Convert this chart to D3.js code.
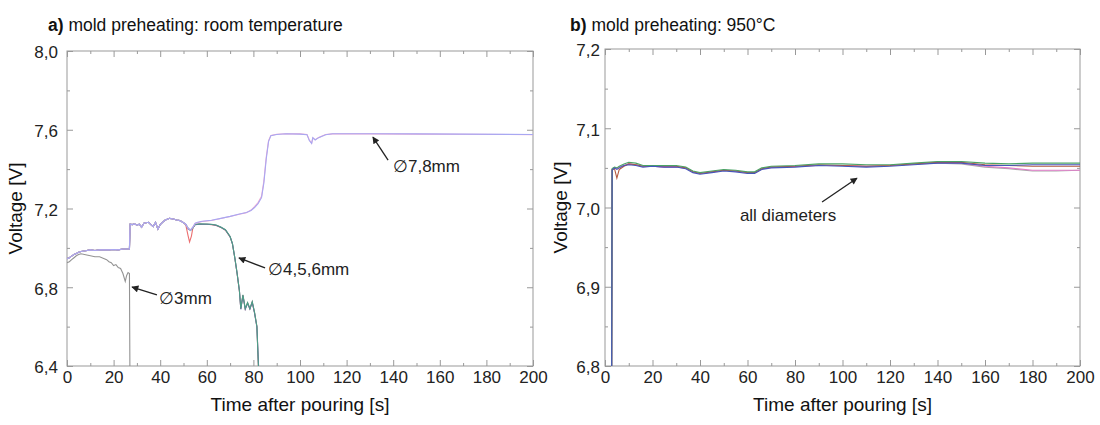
<!DOCTYPE html>
<html>
<head>
<meta charset="utf-8">
<script src="https://cdn.jsdelivr.net/npm/d3@7"></script>
<style>
    body { margin: 0; background: #fff; }
    svg { font-family: "Liberation Sans", Arial, sans-serif; }
    .tick text { fill: #222; }
</style>
</head>
<body>
<div id="chart"></div>
<script>
    // ---- data ----
    // a) room temperature, [time s, voltage V]
    var sharedStart = [[0,6.945],[1,6.95],[2,6.958],[3,6.966],[4,6.972],[5,6.978],[6,6.982],[8,6.985],[10,6.99],
        [12,6.987],[14,6.99],[16,6.99],[18,6.99],[20,6.992],[22,6.99],[24,6.994],[26.8,6.995],[27.1,7.12],
        [28,7.118],[29,7.122],[30,7.115],[31,7.12],[32,7.105],[33,7.125],[34,7.128],[35,7.13],[36,7.118],
        [37,7.108],[38,7.13],[39,7.095],[40,7.118],[41,7.13],[42,7.14],[43,7.145],[44,7.15],[45,7.148],
        [46,7.145],[47,7.142],[48,7.14],[49,7.135],[50,7.128]];

    var d3mm = [[0,6.925],[1,6.93],[2,6.94],[3,6.95],[4,6.96],[5,6.966],[6,6.97],[8,6.965],[10,6.96],[12,6.955],
        [14,6.955],[16,6.945],[17,6.94],[18,6.93],[19,6.925],[20,6.91],[21,6.915],[22,6.9],[23,6.895],
        [24,6.87],[25,6.83],[25.6,6.86],[26.2,6.875],[26.8,6.87],[27,6.38]];

    var tail4 = [[51,7.115],[52,7.06],[52.6,7.03],[53.4,7.06],[54,7.1],[55,7.12],[57,7.12],[60,7.12],[62,7.118],
        [64,7.114],[66,7.104],[68,7.09],[70,7.056],[71,7.02],[72,6.95],[73,6.87],[74,6.78],[74.6,6.69],
        [75.5,6.76],[76.5,6.69],[77.5,6.72],[78.5,6.69],[79.5,6.725],[80.5,6.67],[81.5,6.6],[82.2,6.38]];
    var tail5 = [[51,7.118],[52,7.1],[53,7.088],[54,7.1],[55,7.12],[57,7.122],[60,7.121],[62,7.12],[64,7.116],
        [66,7.106],[68,7.092],[70,7.058],[71,7.022],[72,6.952],[73,6.872],[74,6.782],[74.6,6.692],[75.5,6.762],
        [76.5,6.692],[77.5,6.722],[78.5,6.692],[79.5,6.727],[80.5,6.672],[81.5,6.602],[82.2,6.38]];
    var tail6 = [[51,7.12],[52,7.095],[53,7.09],[54,7.102],[55,7.118],[57,7.12],[60,7.12],[62,7.119],[64,7.115],
        [66,7.105],[68,7.091],[70,7.057],[71,7.021],[72,6.951],[73,6.871],[74,6.781],[74.6,6.688],[75.5,6.758],
        [76.5,6.688],[77.5,6.718],[78.5,6.69],[79.5,6.723],[80.5,6.668],[81.5,6.598],[82.3,6.38]];
    var tail7 = [[51,7.12],[52,7.1],[53,7.09],[54,7.105],[55,7.125],[56,7.13],[58,7.135],[62,7.14],[66,7.15],
        [70,7.16],[74,7.172],[77,7.18],[79,7.19],[80.5,7.205],[82,7.225],[83.5,7.255],[84.5,7.33],[85.5,7.45],
        [86.5,7.54],[87.5,7.57],[90,7.576],[94,7.58],[100,7.578],[103,7.575],[104,7.545],[105,7.53],[105.5,7.56],
        [106.5,7.548],[108,7.56],[111,7.575],[114,7.58],[130,7.58],[150,7.579],[170,7.578],[200,7.576]];
    var tail8 = [[51,7.118],[52,7.098],[53,7.092],[54,7.104],[55,7.124],[56,7.128],[58,7.134],[62,7.139],[66,7.149],
        [70,7.159],[74,7.171],[77,7.179],[79,7.192],[80.5,7.21],[82,7.23],[83.5,7.262],[84.5,7.34],[85.5,7.46],
        [86.5,7.545],[87.5,7.571],[90,7.577],[94,7.58],[100,7.579],[103,7.576],[104,7.548],[105,7.532],[105.5,7.558],
        [106.5,7.55],[108,7.561],[111,7.576],[114,7.579],[130,7.579],[150,7.578],[170,7.577],[200,7.575]];

    var leftSeries = [
        { name: "3mm", color: "#939393", values: d3mm },
        { name: "4mm", color: "#ec6f70", values: sharedStart.concat(tail4) },
        { name: "6mm", color: "#5c6cb0", values: sharedStart.concat(tail6) },
        { name: "5mm", color: "#4f9e86", values: sharedStart.concat(tail5) },
        { name: "8mm", color: "#f2a8cf", values: sharedStart.concat(tail8) },
        { name: "7mm", color: "#a8a8f2", values: sharedStart.concat(tail7) }
    ];

    // b) 950°C, shared time axis
    var rightTimes = [2.8, 3, 4, 5, 6, 8, 10, 13, 16, 20, 25, 30, 34, 37, 40, 45, 50, 55, 60, 63, 66, 70,
        80, 90, 100, 110, 120, 130, 140, 150, 160, 170, 180, 190, 200];
    var rGray  = [6.78,7.048,7.05,7.049,7.051,7.053,7.055,7.054,7.052,7.052,7.051,7.051,7.05,7.045,7.043,7.045,7.047,7.046,7.044,7.044,7.049,7.051,7.052,7.053,7.053,7.052,7.053,7.055,7.056,7.055,7.051,7.049,7.046,7.046,7.047];
    var rPink  = [6.78,7.048,7.05,7.049,7.051,7.053,7.055,7.054,7.052,7.052,7.051,7.051,7.05,7.045,7.043,7.045,7.047,7.046,7.044,7.044,7.049,7.051,7.052,7.053,7.053,7.052,7.053,7.055,7.057,7.056,7.052,7.05,7.047,7.047,7.047];
    var rRed   = [6.78,7.048,7.049,7.037,7.048,7.052,7.055,7.054,7.052,7.052,7.052,7.052,7.05,7.045,7.043,7.045,7.047,7.046,7.044,7.044,7.049,7.051,7.052,7.054,7.053,7.052,7.053,7.055,7.057,7.057,7.054,7.053,7.052,7.052,7.052];
    var rGreen = [6.78,7.049,7.051,7.05,7.052,7.055,7.057,7.056,7.053,7.053,7.053,7.053,7.051,7.046,7.044,7.046,7.048,7.047,7.045,7.045,7.05,7.052,7.053,7.055,7.055,7.054,7.054,7.056,7.058,7.058,7.056,7.055,7.056,7.056,7.056];
    var rBlue  = [6.78,7.047,7.05,7.048,7.05,7.053,7.054,7.053,7.051,7.052,7.051,7.051,7.049,7.044,7.042,7.044,7.046,7.045,7.043,7.043,7.048,7.05,7.051,7.053,7.052,7.051,7.052,7.054,7.056,7.056,7.053,7.053,7.054,7.054,7.054];

    var rightSeries = [
        { color: "#a8a8a8", values: rGray },
        { color: "#e47ccc", values: rPink },
        { color: "#b4583f", values: rRed },
        { color: "#4ba466", values: rGreen },
        { color: "#4656bc", values: rBlue }
    ];

    var xMajor = [0, 20, 40, 60, 80, 100, 120, 140, 160, 180, 200];
    var xMinor = [10, 30, 50, 70, 90, 110, 130, 150, 170, 190];
    var leftYMajor = [6.4, 6.8, 7.2, 7.6, 8.0];
    var leftYMinor = [6.6, 7.0, 7.4, 7.8];
    var rightYMajor = [6.8, 6.9, 7.0, 7.1, 7.2];
    var rightYMinor = [6.85, 6.95, 7.05, 7.15];

    // annotations in data units: text anchor, arrow tail, arrow head
    var leftNotes = [
        { text: "\u22057,8mm", tx: 139.9, ty: 7.416, x1: 137.8, y1: 7.446, x2: 131.3, y2: 7.563 },
        { text: "\u22054,5,6mm", tx: 86.3, ty: 6.893, x1: 85.0, y1: 6.898, x2: 73.8, y2: 6.949 },
        { text: "\u22053mm", tx: 39.5, ty: 6.746, x1: 38.6, y1: 6.761, x2: 27.9, y2: 6.801 }
    ];
    var rightNotes = [
        { text: "all diameters", tx: 56.8, ty: 6.991, x1: 91.4, y1: 7.007, x2: 106.1, y2: 7.037 }
    ];

    // ---- drawing ----
    var svg = d3.select("#chart").append("svg")
        .attr("width", 1100)
        .attr("height", 425);

    svg.append("defs").append("marker")
        .attr("id", "arrow")
        .attr("viewBox", "0 0 10 10")
        .attr("refX", 9).attr("refY", 5)
        .attr("markerWidth", 9).attr("markerHeight", 7)
        .attr("markerUnits", "userSpaceOnUse")
        .attr("orient", "auto")
        .append("path")
        .attr("d", "M0,0 L10,5 L0,10 z")
        .attr("fill", "#222");

    var comma = function (d) { return d3.format(".1f")(d).replace(".", ","); };

    function drawPanel(opt) {
        var x = d3.scaleLinear().domain([0, 200]).range([opt.left, opt.right]);
        var y = d3.scaleLinear().domain(opt.yDomain).range([opt.bottom, opt.top]);
        var w = opt.right - opt.left, h = opt.bottom - opt.top;

        svg.append("clipPath").attr("id", opt.id)
            .append("rect").attr("x", opt.left).attr("y", opt.top).attr("width", w).attr("height", h);

        // ticks, all pointing inwards
        var gb = svg.append("g").attr("transform", "translate(0," + opt.bottom + ")")
            .call(d3.axisBottom(x).tickValues(xMajor).tickSize(-6).tickPadding(14).tickFormat(d3.format("d")));
        svg.append("g").attr("transform", "translate(0," + opt.bottom + ")")
            .call(d3.axisBottom(x).tickValues(xMinor).tickSize(-3).tickFormat(""));
        svg.append("g").attr("transform", "translate(0," + opt.top + ")")
            .call(d3.axisTop(x).tickValues(xMajor).tickSize(-6).tickFormat(""));
        svg.append("g").attr("transform", "translate(0," + opt.top + ")")
            .call(d3.axisTop(x).tickValues(xMinor).tickSize(-3).tickFormat(""));
        var gl = svg.append("g").attr("transform", "translate(" + opt.left + ",0)")
            .call(d3.axisLeft(y).tickValues(opt.yMajor).tickSize(-6).tickPadding(opt.yPad).tickFormat(comma));
        svg.append("g").attr("transform", "translate(" + opt.left + ",0)")
            .call(d3.axisLeft(y).tickValues(opt.yMinor).tickSize(-3).tickFormat(""));
        svg.append("g").attr("transform", "translate(" + opt.right + ",0)")
            .call(d3.axisRight(y).tickValues(opt.yMajor).tickSize(-6).tickFormat(""));
        svg.append("g").attr("transform", "translate(" + opt.right + ",0)")
            .call(d3.axisRight(y).tickValues(opt.yMinor).tickSize(-3).tickFormat(""));

        svg.selectAll(".domain").remove();
        svg.selectAll(".tick line").attr("stroke", "#999");
        gb.selectAll("text").attr("font-size", 17).attr("dy", "0.2em");
        gl.selectAll("text").attr("font-size", 17).attr("dy", "0.4em");

        svg.append("rect")
            .attr("x", opt.left).attr("y", opt.top)
            .attr("width", w).attr("height", h)
            .attr("fill", "none").attr("stroke", "#999").attr("stroke-width", 1);

        var line = d3.line().x(function (d) { return x(d[0]); }).y(function (d) { return y(d[1]); });
        svg.append("g").attr("clip-path", "url(#" + opt.id + ")")
            .selectAll("path")
            .data(opt.series)
            .enter()
            .append("path")
            .attr("d", function (s) { return line(s.values); })
            .attr("fill", "none")
            .attr("stroke", function (s) { return s.color; })
            .attr("stroke-width", 1.1);

        // arrows + labels
        opt.notes.forEach(function (n) {
            svg.append("line")
                .attr("x1", x(n.x1)).attr("y1", y(n.y1))
                .attr("x2", x(n.x2)).attr("y2", y(n.y2))
                .attr("stroke", "#222").attr("stroke-width", 1.3)
                .attr("marker-end", "url(#arrow)");
            svg.append("text")
                .attr("x", x(n.tx)).attr("y", y(n.ty))
                .attr("dy", "0.35em")
                .attr("font-size", 17).attr("fill", "#222")
                .text(n.text);
        });

        // axis titles
        svg.append("text")
            .attr("x", (opt.left + opt.right) / 2).attr("y", 411)
            .attr("text-anchor", "middle").attr("font-size", 19).attr("fill", "#111")
            .text("Time after pouring [s]");
        svg.append("text")
            .attr("transform", "translate(" + opt.ylabX + "," + ((opt.top + opt.bottom) / 2) + ") rotate(-90)")
            .attr("text-anchor", "middle").attr("font-size", 19).attr("fill", "#111")
            .text("Voltage [V]");

        // panel title
        var t = svg.append("text").attr("x", opt.titleX).attr("y", 31).attr("font-size", 17.5).attr("fill", "#111");
        t.append("tspan").attr("font-weight", "bold").text(opt.letter);
        t.append("tspan").text(" mold preheating: " + opt.title);
    }

    var leftLines = leftSeries;
    var rightLines = rightSeries.map(function (s) {
        return { color: s.color, values: rightTimes.map(function (t, i) { return [t, s.values[i]]; }) };
    });

    drawPanel({ id: "clipA", left: 67, right: 533, top: 51, bottom: 366, yDomain: [6.4, 8.0],
        yMajor: leftYMajor, yMinor: leftYMinor, yPad: 9, series: leftLines, notes: leftNotes,
        ylabX: 22, titleX: 48, letter: "a)", title: "room temperature" });
    drawPanel({ id: "clipB", left: 605, right: 1080, top: 49, bottom: 366, yDomain: [6.8, 7.2],
        yMajor: rightYMajor, yMinor: rightYMinor, yPad: 5, series: rightLines, notes: rightNotes,
        ylabX: 567, titleX: 570, letter: "b)", title: "950°C" });
</script>
</body>
</html>
